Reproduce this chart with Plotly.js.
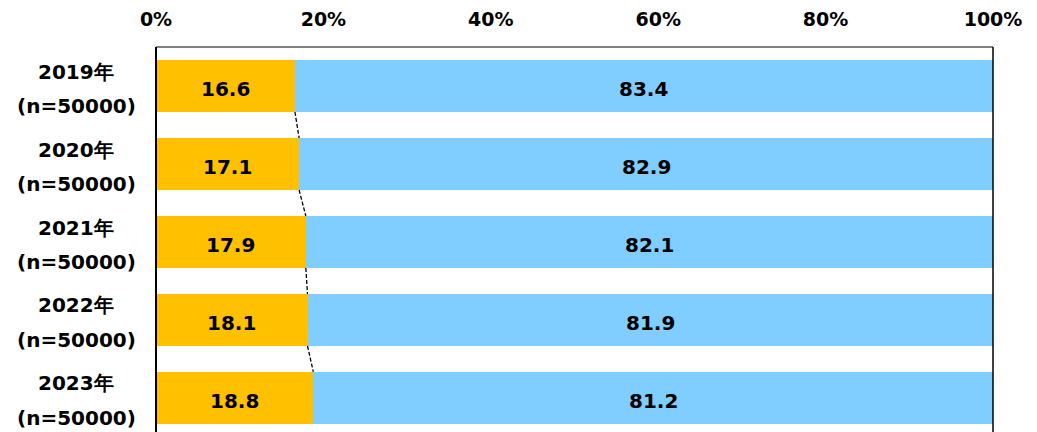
<!DOCTYPE html>
<html>
<head>
<meta charset="utf-8">
<script src="https://cdn.plot.ly/plotly-3.0.1.min.js"></script>
<style>html,body{margin:0;padding:0;background:#fff;}</style>
</head>
<body>
<div id="chart" style="width:1037px;height:432px;"></div>
<script>
var years = ["2019年", "2020年", "2021年", "2022年", "2023年"];
var sampleLabels = ["(n=50000)", "(n=50000)", "(n=50000)", "(n=50000)", "(n=50000)"];
var seriesA = [16.6, 17.1, 17.9, 18.1, 18.8];
var seriesB = [83.4, 82.9, 82.1, 81.9, 81.2];
var tickVals = [0, 20, 40, 60, 80, 100];
var tickLabels = ["0%", "20%", "40%", "60%", "80%", "100%"];

var FONT = "DejaVu Sans, Verdana, sans-serif";
var ypos = years.map(function (_, i) { return i; });
var barW = 0.667;

function barTrace(vals, color) {
  return {
    type: "bar", orientation: "h",
    x: vals, y: ypos,
    width: barW,
    marker: {color: color, line: {width: 0}},
    hoverinfo: "skip"
  };
}

var data = [barTrace(seriesA, "#FFC000"), barTrace(seriesB, "#7FCEFF")];

var shapes = [];
for (var i = 0; i < years.length - 1; i++) {
  shapes.push({type: "line", xref: "x", yref: "y",
    x0: seriesA[i], x1: seriesA[i + 1],
    y0: i + barW / 2, y1: i + 1 - barW / 2,
    line: {color: "#000", width: 1.3, dash: "4px,2px"}});
}
// frame
shapes.push({type: "line", xref: "paper", yref: "paper", x0: 0, x1: 0, y0: 0, y1: 1, line: {color: "#000", width: 2}});
shapes.push({type: "line", xref: "paper", yref: "paper", x0: 0, x1: 1, y0: 1, y1: 1, line: {color: "#000", width: 1}});
shapes.push({type: "line", xref: "paper", yref: "paper", x0: 1, x1: 1, y0: 0, y1: 1, line: {color: "#000", width: 1.5}});

var annotations = [];
years.forEach(function (y, i) {
  annotations.push({xref: "paper", yref: "y", x: -0.095, y: i, yshift: 14.5,
    text: "<b>" + y + "</b>", showarrow: false, xanchor: "center", yanchor: "middle",
    font: {family: FONT, size: 20, color: "#000"}});
  annotations.push({xref: "paper", yref: "y", x: -0.095, y: i, yshift: -20,
    text: "<b>" + sampleLabels[i] + "</b>", showarrow: false, xanchor: "center", yanchor: "middle",
    font: {family: FONT, size: 20, color: "#000"}});
  // value labels in the middle of each segment
  annotations.push({xref: "x", yref: "y", x: seriesA[i] / 2, y: i, yshift: -3,
    text: "<b>" + seriesA[i].toFixed(1) + "</b>", showarrow: false, xanchor: "center", yanchor: "middle",
    font: {family: FONT, size: 20, color: "#000"}});
  annotations.push({xref: "x", yref: "y", x: seriesA[i] + seriesB[i] / 2, y: i, yshift: -3,
    text: "<b>" + seriesB[i].toFixed(1) + "</b>", showarrow: false, xanchor: "center", yanchor: "middle",
    font: {family: FONT, size: 20, color: "#000"}});
});

var layout = {
  width: 1037, height: 432,
  margin: {l: 156, r: 44, t: 47, b: 0, pad: 0},
  paper_bgcolor: "#fff", plot_bgcolor: "#fff",
  barmode: "stack",
  showlegend: false,
  xaxis: {
    side: "top", range: [0, 100], tickvals: tickVals, ticktext: tickLabels,
    showgrid: false, zeroline: false, showline: false, ticks: "",
    ticklabelstandoff: 16,
    tickfont: {family: FONT, size: 19, color: "#000", weight: "bold"},
    fixedrange: true
  },
  yaxis: {
    range: [4.436, -0.5], showticklabels: false, showgrid: false,
    zeroline: false, showline: false, ticks: "", fixedrange: true
  },
  shapes: shapes,
  annotations: annotations
};

Plotly.newPlot("chart", data, layout, {displayModeBar: false, staticPlot: true});
</script>
</body>
</html>
